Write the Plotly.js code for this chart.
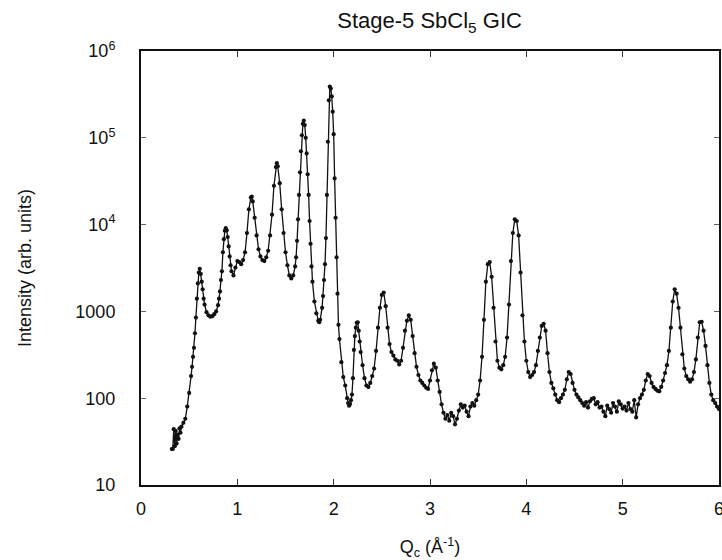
<!DOCTYPE html>
<html>
<head>
<meta charset="utf-8">
<script src="https://cdn.plot.ly/plotly-3.0.1.min.js"></script>
<style>html,body{margin:0;padding:0;background:#fff;}#chart{width:722px;height:560px;}</style>
</head>
<body>
<div id="chart"></div>
<script>
const qc = [
0.32,0.33,0.34,0.35,0.36,0.37,0.38,0.39,0.40,0.41,0.42,0.44,0.46,0.48,0.50,0.52,0.53,0.54,0.55,0.56,0.57,0.58,0.59,0.60,0.61,0.62,0.63,0.64,0.65,0.66,0.68,0.70,0.72,0.74,0.76,0.78,0.80,0.81,0.82,0.83,0.84,0.85,0.86,0.87,0.88,0.89,0.90,0.91,0.92,0.93,0.94,0.96,0.98,1.00,1.02,1.04,1.06,1.08,1.10,1.12,1.14,1.15,1.16,1.18,1.20,1.22,1.24,1.26,1.28,1.30,1.32,1.34,1.36,1.38,1.40,1.41,1.42,1.44,1.46,1.48,1.50,1.52,1.54,1.56,1.58,1.60,1.61,1.62,1.63,1.64,1.65,1.66,1.67,1.68,1.69,1.70,1.71,1.72,1.73,1.74,1.75,1.76,1.77,1.78,1.80,1.82,1.84,1.85,1.86,1.88,1.89,1.90,1.91,1.92,1.93,1.94,1.95,1.96,1.97,1.98,1.99,2.00,2.01,2.02,2.03,2.04,2.05,2.06,2.08,2.10,2.12,2.14,2.15,2.16,2.17,2.18,2.19,2.20,2.21,2.22,2.23,2.24,2.25,2.26,2.27,2.28,2.30,2.32,2.34,2.36,2.38,2.40,2.42,2.44,2.46,2.48,2.50,2.52,2.54,2.56,2.58,2.60,2.62,2.64,2.66,2.68,2.70,2.72,2.74,2.76,2.78,2.80,2.82,2.84,2.86,2.88,2.90,2.92,2.94,2.96,2.98,3.00,3.02,3.04,3.06,3.08,3.10,3.12,3.14,3.16,3.18,3.20,3.22,3.24,3.26,3.28,3.30,3.32,3.34,3.36,3.38,3.40,3.42,3.44,3.46,3.48,3.50,3.52,3.54,3.56,3.58,3.60,3.62,3.64,3.66,3.68,3.70,3.72,3.74,3.76,3.78,3.80,3.82,3.84,3.86,3.88,3.90,3.92,3.94,3.96,3.98,4.00,4.02,4.04,4.06,4.08,4.10,4.12,4.14,4.16,4.18,4.20,4.22,4.24,4.26,4.28,4.30,4.32,4.34,4.36,4.38,4.40,4.42,4.44,4.46,4.48,4.50,4.52,4.54,4.56,4.58,4.60,4.62,4.64,4.66,4.68,4.70,4.72,4.74,4.76,4.78,4.80,4.82,4.84,4.86,4.88,4.90,4.92,4.94,4.96,4.98,5.00,5.02,5.04,5.06,5.08,5.10,5.12,5.14,5.16,5.18,5.20,5.22,5.24,5.26,5.28,5.30,5.32,5.34,5.36,5.38,5.40,5.42,5.44,5.46,5.48,5.50,5.52,5.54,5.56,5.58,5.60,5.62,5.64,5.66,5.68,5.70,5.72,5.74,5.76,5.78,5.80,5.82,5.84,5.86,5.88,5.90,5.92,5.94,5.96,5.98,6.00
];
const intensity = [
26,26,44,28,42,30,38,34,45,40,47,52,58,80,115,180,230,300,380,560,850,1400,2100,2800,3100,2700,2200,1800,1400,1200,980,900,870,880,930,1000,1180,1400,1700,2300,2900,4800,6800,8500,9100,8600,7200,5600,4300,3400,2900,2600,3200,3800,3700,3500,3900,4800,8000,15000,20500,21000,18500,12000,7500,5200,4300,3900,3800,4200,5000,7500,13000,28000,46000,51000,47000,30000,15000,8000,4800,3400,2600,2400,2600,3300,4200,6500,11500,22000,40000,70000,107000,145000,158000,140000,100000,66000,38000,22000,11000,6000,3300,2200,1300,950,780,750,800,1100,1500,2300,3500,7000,22000,90000,270000,389000,370000,300000,200000,110000,34000,12000,4200,1600,700,480,260,175,140,100,88,82,86,95,110,170,360,520,650,740,750,600,450,340,240,170,140,135,150,180,220,350,650,1100,1550,1650,1150,650,420,340,310,280,270,245,270,380,600,780,900,800,520,330,230,185,160,150,140,132,128,160,210,250,225,160,118,85,68,58,64,55,68,62,50,58,72,85,78,82,70,62,80,88,82,95,110,160,300,800,2200,3500,3700,2500,1100,450,270,225,215,240,300,500,1200,3800,8000,11500,11000,7500,2800,900,450,270,200,175,185,200,240,350,500,680,720,600,330,200,150,130,110,95,90,100,110,125,165,200,190,150,125,110,102,95,88,82,90,78,92,98,100,85,90,78,80,70,62,82,75,68,88,80,70,92,85,76,80,72,88,75,70,95,60,85,100,110,125,160,190,180,150,135,128,122,120,135,160,195,240,350,650,1300,1800,1600,1100,650,320,220,180,165,155,165,200,280,500,750,760,600,400,240,150,110,95,88,80,75
];
const yTickVals = [10,100,1000,10000,100000,1000000];
const yTickText = ['10','100','1000','10<sup>4</sup>','10<sup>5</sup>','10<sup>6</sup>'];
const xTickVals = [0,1,2,3,4,5,6];

const trace = {
  x: qc, y: intensity, type: 'scatter', mode: 'lines+markers',
  line: {color: '#111', width: 1.3},
  marker: {color: '#111', size: 4.2, symbol: 'circle'},
  showlegend: false, hoverinfo: 'x+y'
};
const font = 'Liberation Sans, Arial, Helvetica, sans-serif';
const layout = {
  width: 722, height: 560,
  margin: {l: 141, r: 3, t: 51, b: 75},
  paper_bgcolor: '#fff', plot_bgcolor: '#fff',
  font: {family: font, color: '#111', size: 18},
  title: {text: 'Stage-5 SbCl<sub>5</sub> GIC', font: {family: font, size: 22, color: '#111'}, x: 0.595, xanchor: 'center', y: 0.963, yanchor: 'middle'},
  xaxis: {
    range: [0, 6], tickvals: xTickVals, ticks: 'inside', ticklen: 6, tickwidth: 1, tickcolor: '#333',
    showline: true, linecolor: '#111', linewidth: 2, mirror: 'ticks', showgrid: false, zeroline: false,
    ticklabelstandoff: 6, ticklabeloverflow: 'allow',
    tickfont: {family: font, size: 18, color: '#111'},
    title: {text: 'Q<sub>c</sub> (Å<sup>-1</sup>)', font: {family: font, size: 18, color: '#111'}, standoff: 29}
  },
  yaxis: {
    type: 'log', range: [1, 6], tickvals: yTickVals, ticktext: yTickText,
    ticks: 'inside', ticklen: 5, tickwidth: 1, tickcolor: '#666',
    showline: true, linecolor: '#111', linewidth: 2, mirror: 'ticks', showgrid: false, zeroline: false,
    ticklabelstandoff: 20,
    tickfont: {family: font, size: 18, color: '#111'},
    title: {text: 'Intensity (arb. units)', font: {family: font, size: 18, color: '#111'}, standoff: 39}
  }
};
Plotly.newPlot('chart', [trace], layout, {displayModeBar: false, staticPlot: true});
</script>
</body>
</html>
